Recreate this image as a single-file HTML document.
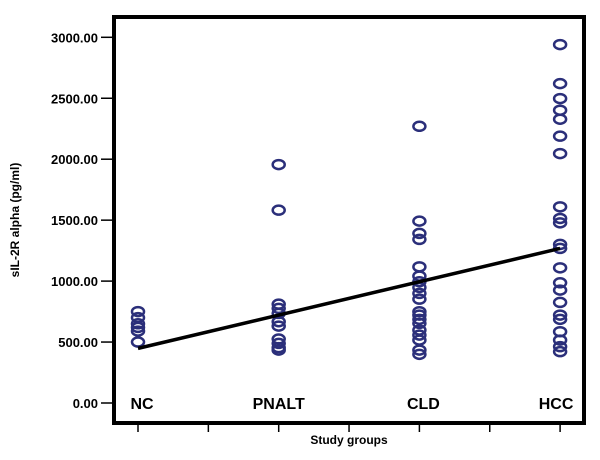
<!DOCTYPE html>
<html><head><meta charset="utf-8"><style>
body{margin:0;background:#fff;}
text{font-family:"Liberation Sans",Arial,sans-serif;font-weight:bold;}
</style></head><body>
<svg id="chart" width="600" height="455">
<rect x="114" y="17" width="470" height="406" fill="none" stroke="#000" stroke-width="4"/>
<text transform="translate(19,220) rotate(-90)" text-anchor="middle" font-size="12">sIL-2R alpha (pg/ml)</text>
<text x="349" y="444" text-anchor="middle" font-size="12">Study groups</text>
<g id="axes"></g><g id="marks"></g>
</svg>
<script>
const categories=["NC","PNALT","CLD","HCC"];
const yTicks=[0,500,1000,1500,2000,2500,3000];
const ncValues=[750,700,650,620,590,500];
const pnaltValues=[1956,1582,811,776,735,667,631,525,489,454,434];
const cldValues=[2270,1492,1391,1342,1117,1041,995,948,899,852,749,721,686,653,598,557,516,434,399];
const hccValues=[2940,2620,2497,2402,2328,2189,2046,1609,1514,1478,1301,1268,1109,986,926,825,721,686,585,516,462,421];
const fitLine=[448,1268];
const series=[ncValues,pnaltValues,cldValues,hccValues];
const NS="http://www.w3.org/2000/svg";
const y=v=>403-v*(365.7/3000);
const x=i=>138+i*140.7;
const axes=document.getElementById('axes'),marks=document.getElementById('marks');
function mk(tag,attrs,parent){const e=document.createElementNS(NS,tag);for(const k in attrs)e.setAttribute(k,attrs[k]);parent.appendChild(e);return e;}
yTicks.forEach(t=>{
 const l=mk('line',{x1:101,x2:113,y1:y(t),y2:y(t),stroke:'#000','stroke-width':1.5},axes);
 
 
 const tx=mk('text',{x:98,y:y(t)+5,'text-anchor':'end','font-size':13},axes);
 tx.textContent=t.toFixed(2);
 
 
});
for(let k=0;k<7;k++){
 const xx=138+k*70.35;
 const l=mk('line',{x1:xx,x2:xx,y1:425,y2:432,stroke:'#000','stroke-width':1.5},axes);
 
 
}
const labelOffsets=[4,0,4,-4];
categories.forEach((c,i)=>{
 const t=mk('text',{x:x(i)+labelOffsets[i],y:409,'text-anchor':'middle','font-size':16},axes);
 t.textContent=c;
 
 
});
series.forEach((arr,i)=>arr.forEach(v=>{
 const e=mk('ellipse',{cx:x(i),cy:y(v),rx:6,ry:4.5,fill:'none',stroke:'#2b2f7a','stroke-width':2.5},marks);
 
 
}));
const fl=mk('line',{x1:x(0),y1:y(fitLine[0]),x2:x(3),y2:y(fitLine[1]),stroke:'#000','stroke-width':3.5},marks);


</script>
</body></html>
